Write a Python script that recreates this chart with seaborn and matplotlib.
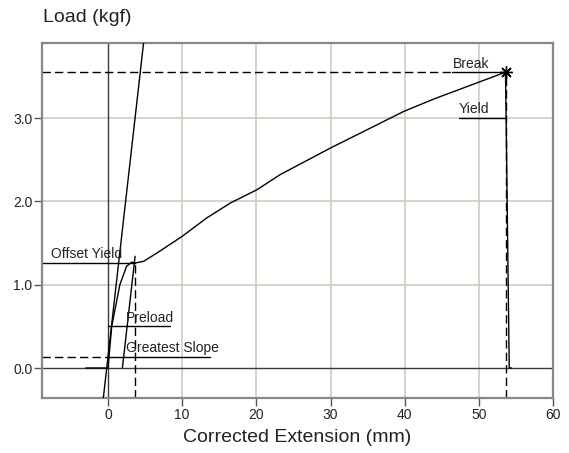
import matplotlib
matplotlib.use("Agg")
import matplotlib.pyplot as plt
import seaborn as sns
import numpy as np
import pandas as pd

# ---- data ----
curve_x = [-3.0, 0.0, 0.5, 1.6, 2.5, 3.2, 3.65, 4.8, 6.6, 10.0, 13.3, 16.5, 20.1, 23.2, 30.0, 39.9, 44.0, 53.6, 54.1, 54.4]
curve_y = [0.0, 0.0, 0.5, 1.0, 1.22, 1.27, 1.26, 1.28, 1.38, 1.58, 1.80, 1.98, 2.14, 2.32, 2.64, 3.08, 3.23, 3.55, 0.0, 0.0]

greatest_slope = 0.785      # kgf / mm
greatest_intercept = 0.136  # kgf at x = 0
offset_start = 1.94         # mm, where offset line meets zero load

break_x, break_y = 53.6, 3.55
yield_y = 3.0
offset_yield_x, offset_yield_y = 3.65, 1.26
preload_y = 0.5
gslope_y = 0.136

x_ticks = [0, 10, 20, 30, 40, 50, 60]
y_ticks = [0.0, 1.0, 2.0, 3.0]
y_tick_labels = ["0.0", "1.0", "2.0", "3.0"]

xlim = (-8.9, 60.0)
ylim = (-0.36, 3.9)

# ---- figure ----
sns.set_theme(style="white")
plt.rcParams['font.family'] = ['Liberation Sans', 'DejaVu Sans']

fig = plt.figure(figsize=(5.69, 4.53), dpi=100)
ax = fig.add_axes([42/569, 1-398/453, (553-42)/569, (398-43)/453])
ax.set_xlim(*xlim)
ax.set_ylim(*ylim)

grid_c = '#cfccbf'
for xv in x_ticks:
    if xv != 0:
        ax.axvline(xv, color=grid_c, lw=1.2, zorder=0)
for yv in y_ticks:
    if yv != 0:
        ax.axhline(yv, color=grid_c, lw=1.2, zorder=0)
ax.axvline(0, color='#3a3a3a', lw=1.0, zorder=1)
ax.axhline(0, color='#3a3a3a', lw=1.0, zorder=1)

# main curve
df = pd.DataFrame({"x": curve_x, "y": curve_y})
sns.lineplot(data=df, x="x", y="y", sort=False, color='black', lw=1.0, ax=ax, zorder=3)

# greatest slope line across the plot
gs_x = np.array([(ylim[0]-greatest_intercept)/greatest_slope, (ylim[1]-greatest_intercept)/greatest_slope])
gs_df = pd.DataFrame({"x": gs_x, "y": greatest_intercept + greatest_slope*gs_x})
sns.lineplot(data=gs_df, x="x", y="y", sort=False, color='black', lw=1.0, ax=ax, zorder=3)

# offset line
off_x = np.array([offset_start, offset_yield_x])
off_df = pd.DataFrame({"x": off_x, "y": greatest_slope*(off_x-offset_start)})
off_df.loc[1, "y"] = 1.34
sns.lineplot(data=off_df, x="x", y="y", sort=False, color='black', lw=1.0, ax=ax, zorder=3)

dash = (0, (6, 3))
# break markers
ax.plot([xlim[0], 46.4], [break_y, break_y], color='black', lw=1.0, linestyle=dash)
ax.plot([46.4, break_x], [break_y, break_y], color='black', lw=1.0)
ax.plot([break_x, break_x], [ylim[0], break_y], color='black', lw=1.0, linestyle=dash)
ax.plot([break_x], [break_y], marker=(8, 2, 0), color='black', markersize=9, mew=1.0, zorder=4)
ax.text(46.5, break_y + 0.02, "Break", fontsize=10, ha='left', va='bottom', color='#222222')

# yield
ax.plot([47.3, break_x], [yield_y, yield_y], color='black', lw=1.0)
ax.text(47.3, yield_y + 0.02, "Yield", fontsize=10, ha='left', va='bottom', color='#222222')

# offset yield
ax.plot([xlim[0], offset_yield_x], [offset_yield_y, offset_yield_y], color='black', lw=1.0)
ax.plot([offset_yield_x, offset_yield_x], [ylim[0], offset_yield_y], color='black', lw=1.0, linestyle=dash)
ax.text(-7.75, offset_yield_y + 0.02, "Offset Yield", fontsize=10, ha='left', va='bottom', color='#222222')

# preload
ax.plot([0, 8.4], [preload_y, preload_y], color='black', lw=1.0)
ax.text(2.4, preload_y + 0.02, "Preload", fontsize=10, ha='left', va='bottom', color='#222222')

# greatest slope label
ax.plot([xlim[0], 0], [gslope_y, gslope_y], color='black', lw=1.0, linestyle=dash)
ax.plot([0, 13.8], [gslope_y, gslope_y], color='black', lw=1.0)
ax.text(2.4, gslope_y + 0.02, "Greatest Slope", fontsize=10, ha='left', va='bottom', color='#222222')

# ticks & spines
ax.set_xticks(x_ticks)
ax.set_yticks(y_ticks)
ax.set_yticklabels(y_tick_labels)
ax.tick_params(axis='both', which='both', direction='out', length=6, width=1,
               color='#555555', labelsize=10, pad=1, labelcolor='#222222',
               bottom=True, left=True)
for s in ax.spines.values():
    s.set_color('#888888')
    s.set_linewidth(1.6)
ax.set_xlabel("")
ax.set_ylabel("")

fig.text(43/569, 1-18/453, "Load (kgf)", fontsize=14, ha='left', va='center', color='#222222')
fig.text(297/569, 1-437/453, "Corrected Extension (mm)", fontsize=14, ha='center', va='center', color='#222222')

fig.savefig("out.png", dpi=100, facecolor='white')
